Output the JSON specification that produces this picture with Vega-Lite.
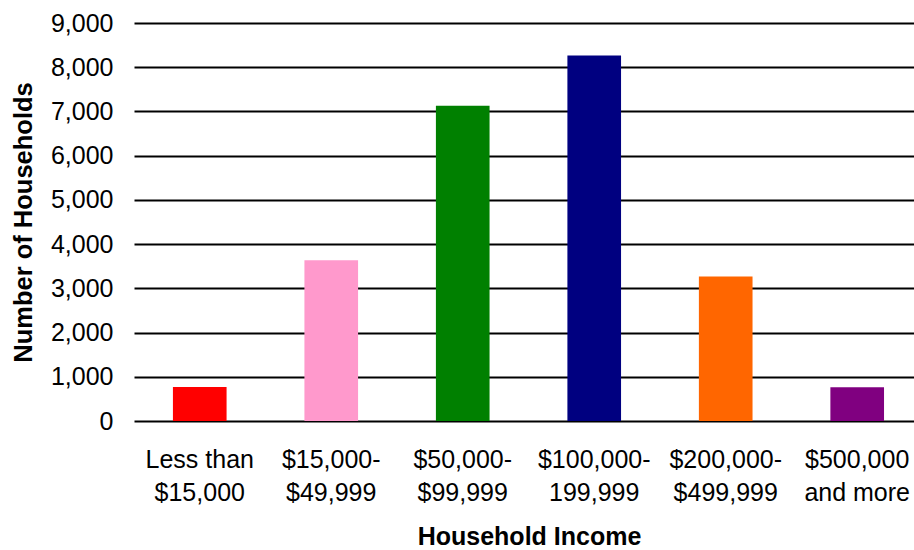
{
  "$schema": "https://vega.github.io/schema/vega-lite/v6.json",
  "width": 780,
  "height": 398,
  "autosize": {"type": "none"},
  "padding": {"left": 134, "top": 23, "right": 0, "bottom": 129},
  "background": "white",
  "config": {
    "view": {"stroke": null},
    "font": "Liberation Sans"
  },
  "data": {
    "values": [
      {"income": "Less than|$15,000", "households": 770, "color": "#FF0000"},
      {"income": "$15,000-|$49,999", "households": 3635, "color": "#FF99CC"},
      {"income": "$50,000-|$99,999", "households": 7130, "color": "#008000"},
      {"income": "$100,000-|199,999", "households": 8265, "color": "#000080"},
      {"income": "$200,000-|$499,999", "households": 3265, "color": "#FF6600"},
      {"income": "$500,000|and more", "households": 765, "color": "#800080"}
    ]
  },
  "mark": {"type": "bar"},
  "encoding": {
    "x": {
      "field": "income",
      "type": "nominal",
      "sort": null,
      "scale": {"paddingInner": 0.592, "paddingOuter": 0.262, "align": 0.565},
      "axis": {
        "title": "Household Income",
        "titleFont": "Liberation Sans",
        "titleFontSize": 25,
        "titleFontWeight": "bold",
        "titleColor": "black",
        "titleX": 395,
        "titleY": 123,
        "titleBaseline": "alphabetic",
        "titleAlign": "center",
        "labelAngle": 0,
        "labelFontSize": 25,
        "labelColor": "black",
        "labelLineHeight": 33,
        "labelPadding": 26,
        "labelBaseline": "top",
        "labelExpr": "split(datum.label, '|')",
        "ticks": false,
        "domain": false,
        "grid": false
      }
    },
    "y": {
      "field": "households",
      "type": "quantitative",
      "scale": {"domain": [0, 9000], "nice": false},
      "axis": {
        "title": "Number of Households",
        "titleFontSize": 25.5,
        "titleFontWeight": "bold",
        "titleColor": "black",
        "titleX": -111,
        "titleY": 199,
        "titleAngle": -90,
        "titleAlign": "center",
        "titleBaseline": "middle",
        "values": [0, 1000, 2000, 3000, 4000, 5000, 6000, 7000, 8000, 9000],
        "format": ",d",
        "labelFontSize": 25,
        "labelColor": "black",
        "labelPadding": 21,
        "ticks": false,
        "domain": false,
        "grid": true,
        "gridColor": "black",
        "gridWidth": 2,
        "gridOpacity": 1
      }
    },
    "color": {"field": "color", "type": "nominal", "scale": null, "legend": null}
  }
}
